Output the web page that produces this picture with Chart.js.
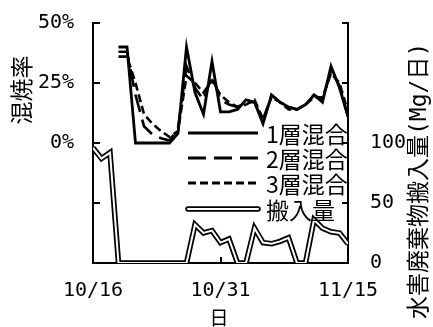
<!DOCTYPE html>
<html>
<head>
<meta charset="utf-8">
<script src="https://cdn.jsdelivr.net/npm/chart.js@4.4.1/dist/chart.umd.min.js"></script>
<style>
  html, body { margin: 0; padding: 0; background: #fff; }
  #wrap { width: 433px; height: 327px; }
</style>
</head>
<body>
<div id="wrap"><canvas id="c" width="433" height="327"></canvas></div>
<script>
// Days from 10/16 to 11/15
const days = [
  '10/16','10/17','10/18','10/19','10/20','10/21','10/22','10/23','10/24','10/25',
  '10/26','10/27','10/28','10/29','10/30','10/31','11/1','11/2','11/3','11/4',
  '11/5','11/6','11/7','11/8','11/9','11/10','11/11','11/12','11/13','11/14','11/15'
];

// Co-firing rate (%) per mixing method
const rateLayer1 = [null, null, null, 40, 40, 0, 0, 0, 0, 0, 4, 40, 21, 12, 34, 13, 13, 14, 18, 17, 8, 20, 17, 15, 14, 16, 20, 17, 32, 23, 11];
const rateLayer2 = [null, null, null, 38, 38, 20, 7, 3.5, 2, 1, 6, 32, 23, 18, 28, 18, 16, 15, 17, 17, 9, 20, 17, 15, 14, 16, 20, 18, 30, 24, 11];
const rateLayer3 = [null, null, null, 36, 36, 25, 12, 8, 5, 2.5, 5, 28, 25, 21, 26, 20, 17, 15, 16, 18, 10, 19, 17, 14, 14, 16, 19, 19, 29, 25, 13];

// Flood waste delivered (Mg/day)
const delivered = [96, 87, 92, 0, 0, 0, 0, 0, 0, 0, 0, 0, 32, 25, 27, 17, 20, 0, 0, 29, 17, 16, 18, 21, 0, 0, 36, 29, 26, 25, 16];

const seriesNames = ['1層混合', '2層混合', '3層混合', '搬入量'];
const rateTicks = [-50, -25, 0, 25, 50];
const amountTicks = [0, 50, 100, 150, 200];
const dateTicks = [0, 15, 30];

const pts = arr => arr.map((v, i) => ({ x: i, y: v }));

const tickFont = { family: "'DejaVu Sans Mono', 'Noto Sans CJK JP'", size: 20 };
const cjk = "'Noto Sans CJK JP', 'Noto Sans CJK SC', sans-serif";

// Inward tick marks, legend and axis titles
const decorations = {
  id: 'decorations',
  afterDraw(chart) {
    const { ctx, chartArea: a, scales } = chart;
    ctx.save();
    ctx.strokeStyle = '#000';
    ctx.lineWidth = 2;
    const seg = (x1, y1, x2, y2) => { ctx.beginPath(); ctx.moveTo(x1, y1); ctx.lineTo(x2, y2); ctx.stroke(); };

    rateTicks.forEach(v => {
      const py = Math.round(scales.y.getPixelForValue(v));
      if (v > -50) seg(a.left, py, a.left + 7, py);
    });
    amountTicks.forEach(v => {
      const py = Math.round(scales.y2.getPixelForValue(v));
      if (v > 0) seg(a.right - 6, py, a.right, py);
    });
    dateTicks.forEach(v => {
      const px = Math.round(scales.x.getPixelForValue(v));
      if (v > 0 && v < 30) seg(px, a.bottom - 6, px, a.bottom);
    });

    // legend
    const rows = [133, 158, 183, 209];
    const x1 = 188, x2 = 258;
    chart.data.datasets.filter(d => d.legendRow !== undefined).forEach(d => {
      const y = rows[d.legendRow];
      if (d.double) {
        ctx.setLineDash([]);
        ctx.lineCap = 'round';
        ctx.strokeStyle = '#000'; ctx.lineWidth = 5.5; seg(x1, y, x2, y);
        ctx.strokeStyle = '#fff'; ctx.lineWidth = 2; seg(x1, y, x2, y);
        ctx.lineCap = 'butt';
      } else {
        ctx.setLineDash(d.borderDash || []);
        ctx.strokeStyle = '#000'; ctx.lineWidth = 3; seg(x1, y, x2, y);
      }
      ctx.setLineDash([]);
      ctx.fillStyle = '#000';
      ctx.font = '23px ' + cjk;
      ctx.textAlign = 'left';
      ctx.textBaseline = 'middle';
      ctx.fillText(d.label, 266, y + 1);
    });

    // axis titles
    ctx.fillStyle = '#000';
    ctx.textBaseline = 'middle';
    ctx.save();
    ctx.translate(21, 90);
    ctx.rotate(-Math.PI / 2);
    ctx.font = '23px ' + cjk;
    ctx.textAlign = 'center';
    ctx.fillText('混焼率', 0, 0);
    ctx.restore();

    ctx.save();
    ctx.translate(420, 319);
    ctx.rotate(-Math.PI / 2);
    ctx.font = "23px 'DejaVu Sans Mono', " + cjk;
    ctx.textAlign = 'left';
    ctx.fillText('水害廃棄物搬入量(Mg/日)', 0, 0);
    ctx.restore();

    ctx.font = '19px ' + cjk;
    ctx.textAlign = 'center';
    ctx.fillText('日', 219, 318);
    ctx.restore();
  }
};

// keep the plot frame fixed: no extra room reserved for overhanging tick labels
const fixV = w => s => { s.width = w; s.paddingTop = 0; s.paddingBottom = 0; };

new Chart(document.getElementById('c'), {
  type: 'line',
  data: {
    datasets: [
      { label: seriesNames[0], data: pts(rateLayer1), yAxisID: 'y', borderColor: '#000', borderWidth: 2.8, legendRow: 0, order: 0 },
      { label: seriesNames[1], data: pts(rateLayer2), yAxisID: 'y', borderColor: '#000', borderWidth: 2.6, borderDash: [18, 8], legendRow: 1, order: 0 },
      { label: seriesNames[2], data: pts(rateLayer3), yAxisID: 'y', borderColor: '#000', borderWidth: 2.6, borderDash: [8, 4], legendRow: 2, order: 0 },
      { label: seriesNames[3], data: pts(delivered), yAxisID: 'y2', borderColor: '#fff', borderWidth: 2, order: 0 },
      { label: seriesNames[3], data: pts(delivered), yAxisID: 'y2', borderColor: '#000', borderWidth: 5.5, legendRow: 3, double: true, order: 1 }
    ]
  },
  options: {
    responsive: false,
    devicePixelRatio: 1,
    animation: false,
    layout: { padding: { top: 23, left: 0, right: 0, bottom: 0 } },
    elements: {
      point: { radius: 0, hoverRadius: 0 },
      line: { tension: 0, borderJoinStyle: 'miter', fill: false }
    },
    plugins: { legend: { display: false }, tooltip: { enabled: false } },
    scales: {
      x: {
        type: 'linear', position: 'bottom', min: 0, max: 30,
        afterBuildTicks: s => { s.ticks = dateTicks.map(v => ({ value: v })); },
        afterFit: s => { s.height = 64; s.paddingLeft = 0; s.paddingRight = 0; },
        ticks: { callback: v => days[v], font: tickFont, color: '#000', padding: 16, maxRotation: 0, autoSkip: false },
        grid: { display: false, drawTicks: false },
        border: { display: true, color: '#000', width: 2 }
      },
      y: {
        position: 'left', min: -50, max: 50,
        afterBuildTicks: s => { s.ticks = rateTicks.map(v => ({ value: v })); },
        afterFit: fixV(93),
        ticks: { callback: v => (v >= 0 ? v + '%' : ''), font: tickFont, color: '#000', padding: 19 },
        grid: { display: false, drawTicks: false },
        border: { display: true, color: '#000', width: 2 }
      },
      y2: {
        position: 'right', min: 0, max: 200,
        afterBuildTicks: s => { s.ticks = amountTicks.map(v => ({ value: v })); },
        afterFit: fixV(85),
        ticks: { callback: v => (v <= 100 ? String(v) : ''), font: tickFont, color: '#000', padding: 22 },
        grid: { display: false, drawTicks: false },
        border: { display: true, color: '#000', width: 2 }
      }
    }
  },
  plugins: [decorations]
});
</script>
</body>
</html>
